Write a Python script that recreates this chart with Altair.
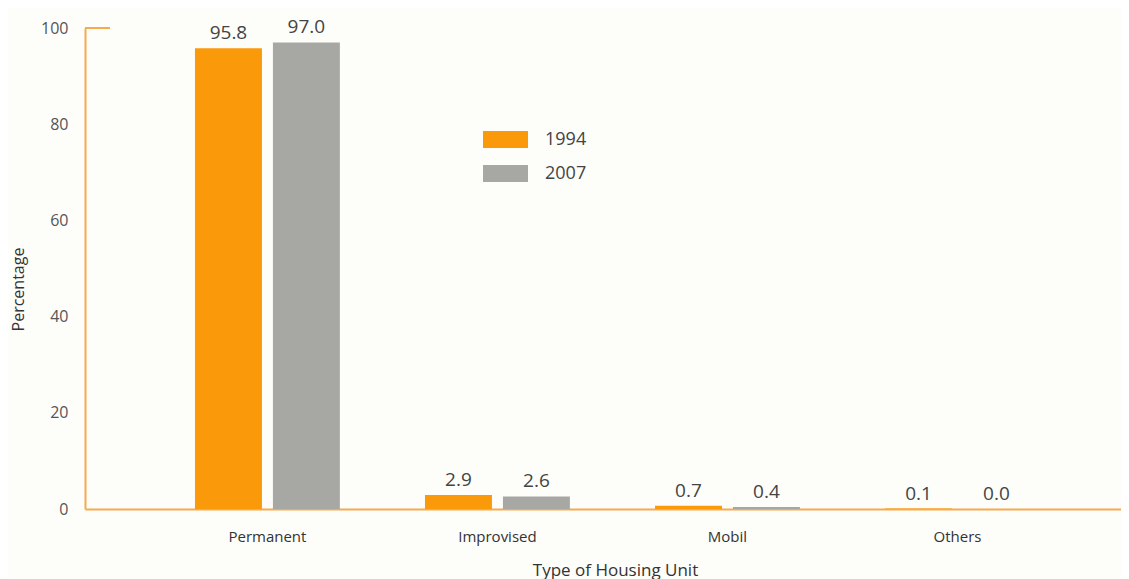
import altair as alt
import pandas as pd

categories = ["Permanent", "Improvised", "Mobil", "Others"]
years = ["1994", "2007"]
values_1994 = [95.8, 2.9, 0.7, 0.1]
values_2007 = [97.0, 2.6, 0.4, 0.0]
y_ticks = [0, 20, 40, 60, 80, 100]

rows = []
for c, a, b in zip(categories, values_1994, values_2007):
    rows.append({"type": c, "year": "1994", "value": a, "label": f"{a:.1f}"})
    rows.append({"type": c, "year": "2007", "value": b, "label": f"{b:.1f}"})
df = pd.DataFrame(rows)

ORANGE = "#FA9A0A"
GRAY = "#A7A7A3"
AXIS = "#F8A94E"
FONT = "Open Sans"

xscale = alt.Scale(domain=categories, paddingInner=0.37, paddingOuter=0.437, align=0.547)
x = alt.X("type:N", scale=xscale, sort=categories,
          axis=alt.Axis(title="Type of Housing Unit", labelAngle=0, ticks=False,
                        domainColor=AXIS, domainWidth=2, labelFontSize=15,
                        labelColor="#333333", labelPadding=20, labelFont=FONT,
                        titleFont=FONT, titleFontSize=17, titleFontWeight="normal",
                        titleColor="#333333", titleX=530, titleY=61,
                        titleBaseline="middle", titleAlign="center"))
xoff = alt.XOffset("year:N", scale=alt.Scale(domain=years, paddingInner=0.141, paddingOuter=0))
y = alt.Y("value:Q", scale=alt.Scale(domain=[0, 100], nice=False),
          axis=alt.Axis(title="Percentage", values=y_ticks, grid=False, ticks=False,
                        domainColor=AXIS, domainWidth=2, labelFontSize=16,
                        labelColor="#555555", labelPadding=17, labelFont=FONT,
                        titleFont=FONT, titleFontSize=16, titleFontWeight="normal",
                        titleColor="#333333", titleX=-67, titleY=261,
                        titleAngle=270, titleAlign="center", titleBaseline="middle"))
color = alt.Color("year:N", scale=alt.Scale(domain=years, range=[ORANGE, GRAY]),
                  legend=alt.Legend(title=None, orient="none", legendX=398, legendY=89,
                                    symbolType="M-1,-0.378L1,-0.378L1,0.378L-1,0.378Z",
                                    symbolSize=2025, symbolStrokeWidth=0,
                                    labelFontSize=18, labelFont=FONT, labelColor="#444444",
                                    labelOffset=17, rowPadding=2, padding=0))

bars = alt.Chart(df).mark_bar().encode(x=x, xOffset=xoff, y=y, color=color)
labels = alt.Chart(df).mark_text(dy=-9, fontSize=19, font=FONT, color="#444444",
                                 baseline="alphabetic").encode(
    x=alt.X("type:N", scale=xscale, sort=categories), xOffset=xoff,
    y=alt.Y("value:Q"), text="label:N")
corner = alt.Chart(pd.DataFrame({"v": [100]})).mark_rule(color=AXIS, strokeWidth=2).encode(
    y=alt.Y("v:Q"), x=alt.value(0), x2=alt.value(25))

chart = alt.layer(bars, labels, corner).properties(
    width=1036, height=481,
    autosize=alt.AutoSizeParams(type="none"),
    padding={"left": 77, "top": 20, "right": 0, "bottom": 70},
    background="#FDFDFA",
).configure_view(stroke=None)

chart.save("out.html", embed_options={"renderer": "svg", "actions": False})
